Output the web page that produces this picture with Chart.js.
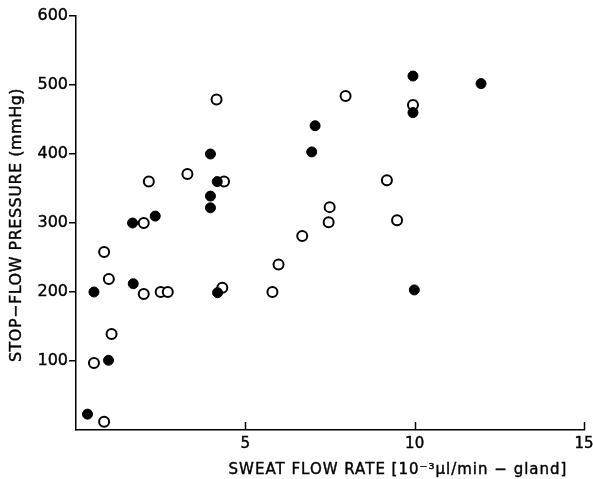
<!DOCTYPE html>
<html>
<head>
<meta charset="utf-8">
<script src="https://cdn.jsdelivr.net/npm/chart.js@4.4.1/dist/chart.umd.min.js"></script>
<style>
  html, body { margin: 0; padding: 0; background: #fff; }
  #wrap { width: 593px; height: 479px; }
</style>
</head>
<body>
<div id="wrap"><canvas id="chart" width="593" height="479"></canvas></div>
<script>
// --- DATA ---
// filled circles
const filledX = [0.34, 0.53, 0.96, 1.67, 1.69, 2.34, 3.97, 3.97, 3.97, 4.17, 4.18, 6.96, 7.06, 9.95, 9.95, 9.99, 11.96];
const filledY = [23, 200, 101, 300, 212, 310, 400, 339, 322, 360, 199, 403, 441, 513, 460, 203, 502];

// open circles
const openX = [0.53, 0.83, 0.83, 0.97, 1.05, 2.0, 2.0, 2.15, 2.5, 2.71, 3.29, 4.15, 4.32, 4.37, 5.8, 5.98, 6.68, 7.46, 7.49, 7.96, 9.18, 9.48, 9.95];
const openY = [97, 12, 258, 219, 139, 300, 197, 360, 200, 200, 371, 479, 206, 360, 200, 240, 281, 301, 323, 484, 362, 304, 471];

const xTicks = [5, 10, 15];
const yTicks = [100, 200, 300, 400, 500, 600];

const X_TITLE = 'SWEAT FLOW RATE [10\u207B\u00B3\u00B5l/min \u2212 gland]';
const Y_TITLE = 'STOP\u2212FLOW PRESSURE (mmHg)';

const FONT = '"DejaVu Sans", sans-serif';

function toPoints(xs, ys) {
    return xs.map((x, i) => ({ x: x, y: ys[i] }));
}

// inward ticks on the x axis + axis titles
const axisExtras = {
    id: 'axisExtras',
    afterDraw(chart) {
        const ctx = chart.ctx;
        const xs = chart.scales.x;
        const area = chart.chartArea;
        ctx.save();
        ctx.strokeStyle = '#000';
        ctx.lineWidth = 1.5;
        xTicks.forEach(v => {
            const px = Math.round(xs.getPixelForValue(v)) + 0.5;
            ctx.beginPath();
            ctx.moveTo(px, area.bottom);
            ctx.lineTo(px, area.bottom - 8);
            ctx.stroke();
        });

        ctx.fillStyle = '#000';
        ctx.strokeStyle = '#000';
        ctx.lineWidth = 0.4;
        ctx.font = '15px ' + FONT;
        ctx.textBaseline = 'middle';
        ctx.textAlign = 'center';
        ctx.letterSpacing = '1px';
        ctx.fillText(X_TITLE, area.left + 322, 470);
        ctx.strokeText(X_TITLE, area.left + 322, 470);

        ctx.font = '16px ' + FONT;
        ctx.letterSpacing = '0.5px';
        ctx.translate(17, area.top + 209);
        ctx.rotate(-Math.PI / 2);
        ctx.fillText(Y_TITLE, 0, 0);
        ctx.strokeText(Y_TITLE, 0, 0);
        ctx.restore();
    }
};

const tickStyle = {
    color: '#000',
    textStrokeColor: '#000',
    textStrokeWidth: 0.4
};

new Chart(document.getElementById('chart'), {
    type: 'scatter',
    data: {
        datasets: [
            {
                label: 'filled',
                data: toPoints(filledX, filledY),
                pointRadius: 5,
                pointBackgroundColor: '#000',
                pointBorderColor: '#000',
                pointBorderWidth: 1
            },
            {
                label: 'open',
                data: toPoints(openX, openY),
                pointRadius: 5,
                pointBackgroundColor: '#fff',
                pointBorderColor: '#000',
                pointBorderWidth: 2
            }
        ]
    },
    options: {
        responsive: false,
        animation: false,
        layout: { padding: { left: 0, top: 16, right: 9, bottom: 0 } },
        plugins: { legend: { display: false }, tooltip: { enabled: false } },
        scales: {
            x: {
                type: 'linear',
                min: 0,
                max: 15,
                afterBuildTicks: s => { s.ticks = [0].concat(xTicks).map(v => ({ value: v })); },
                afterFit: s => { s.height = 49; s.paddingLeft = 0; s.paddingRight = 0; },
                border: { color: '#000', width: 1.5 },
                grid: { display: true, drawOnChartArea: false, drawTicks: false },
                ticks: {
                    ...tickStyle,
                    padding: 5,
                    font: { family: FONT, size: 15 },
                    callback: v => (v === 0 ? '' : v)
                }
            },
            y: {
                type: 'linear',
                min: 0,
                max: 600,
                afterBuildTicks: s => { s.ticks = [0].concat(yTicks).map(v => ({ value: v })); },
                afterFit: s => { s.width = 76; s.paddingTop = 0; s.paddingBottom = 0; },
                border: { color: '#000', width: 1.5 },
                grid: {
                    drawOnChartArea: false,
                    drawTicks: true,
                    tickLength: 7,
                    lineWidth: 1.5,
                    color: c => (c.tick && c.tick.value === 0 ? 'rgba(0,0,0,0)' : '#000')
                },
                ticks: {
                    ...tickStyle,
                    padding: 1,
                    font: { family: FONT, size: 16 },
                    callback: v => (v === 0 ? '' : v)
                }
            }
        }
    },
    plugins: [axisExtras]
});
</script>
</body>
</html>
